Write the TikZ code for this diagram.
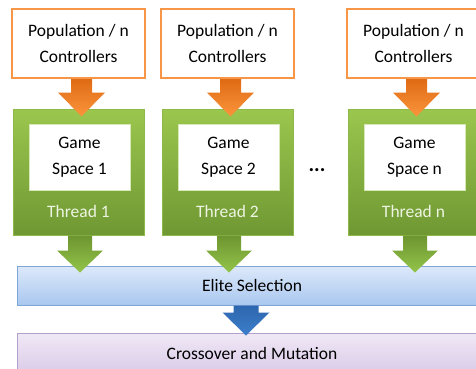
\documentclass[tikz,border=0pt]{standalone}
\usepackage{fontspec}
\setmainfont{Carlito}
\usepackage{tikz}
\usetikzlibrary{calc, positioning}

\definecolor{popOrange}{HTML}{F79646}
\definecolor{arrOrangeTop}{HTML}{DF6B14}
\definecolor{arrOrangeBot}{HTML}{FA953C}
\definecolor{thrTop}{HTML}{9BC64E}
\definecolor{thrBot}{HTML}{6F9833}
\definecolor{thrBorder}{HTML}{8DB84A}
\definecolor{thrText}{HTML}{EEF4E2}
\definecolor{arrGreenTop}{HTML}{6E9530}
\definecolor{arrGreenBot}{HTML}{92C44A}
\definecolor{eliteTop}{HTML}{DDE9FA}
\definecolor{eliteBot}{HTML}{A9C7EF}
\definecolor{eliteBorder}{HTML}{7EA5D8}
\definecolor{arrBlueTop}{HTML}{2D66AE}
\definecolor{arrBlueBot}{HTML}{3D7FCB}
\definecolor{crossTop}{HTML}{F0E8F6}
\definecolor{crossBot}{HTML}{DACBE8}
\definecolor{crossBorder}{HTML}{B3A1CB}

\begin{document}
\begin{tikzpicture}[
    x=1pt, y=-1pt,
    font=\fontsize{17.5}{26.5}\selectfont
]
    \useasboundingbox (0,0) rectangle (476,369);
    \clip (0,0) rectangle (476,369);

    % Styles for blocks
    \tikzstyle{popbox} = [draw=popOrange, line width=2.2pt, fill=white, minimum width=133pt, minimum height=69pt, align=center, inner sep=0pt]
    \tikzstyle{threadbox} = [draw=thrBorder, line width=1pt, top color=thrTop, bottom color=thrBot, minimum width=131pt, minimum height=126pt]
    \tikzstyle{gamebox} = [draw=thrTop!40, line width=0.6pt, fill=white, minimum width=101pt, minimum height=66pt, align=center, inner sep=0pt]
    \tikzstyle{threadlabel} = [text=thrText, inner sep=0pt]
    \tikzstyle{elitebar} = [draw=eliteBorder, line width=1pt, top color=eliteTop, bottom color=eliteBot, minimum width=470pt, minimum height=39pt]
    \tikzstyle{crossbar} = [draw=crossBorder, line width=1pt, top color=crossTop, bottom color=crossBot, minimum width=470pt, minimum height=40pt]

    % Components

    % One column per thread
    \foreach \i/\cx/\lab in {1/78.5/1, 2/227.5/2, 3/413.5/n} {
        \node [popbox] (pop\i) at (\cx, 43.5) {Population / n\\Controllers};
        \node [threadbox] (thr\i) at (\cx, 172) {};
        \node [gamebox] (game\i) at (\cx+1, 157) {Game\\Space \lab};
        \node [threadlabel] (lbl\i) at (\cx, 211) {Thread \lab};
    }

    % Dots between thread 2 and thread n
    \node [anchor=base, inner sep=0pt, font=\fontsize{21}{21}\bfseries] (dots) at (317, 171) {...};

    % Elite Selection (Bottom)
    \node [elitebar] (elite) at (252, 285.5) {Elite Selection};

    % Crossover and Mutation (Bottom)
    \node [crossbar] (cross) at (252, 353) {Crossover and Mutation};

    % Connections

    % 1. Controllers -> Threads, Threads -> Elite Selection
    \foreach \i in {1,2,3} {
        \shade [top color=arrOrangeTop, bottom color=arrOrangeBot]
            let \p1 = (pop\i.south), \p2 = (thr\i.north) in
            ({\x1+3pt-10.5pt}, \y1) -- ({\x1+3pt+10.5pt}, \y1)
            -- ({\x1+3pt+10.5pt}, {\y2+16pt}) -- ({\x1+3pt+23.5pt}, {\y2+16pt})
            -- ({\x1+3pt}, {\y2-8pt})
            -- ({\x1+3pt-23.5pt}, {\y2+16pt}) -- ({\x1+3pt-10.5pt}, {\y2+16pt}) -- cycle;
        \shade [top color=arrGreenTop, bottom color=arrGreenBot]
            let \p1 = (thr\i.south), \p2 = (elite.north) in
            ({\x1+1.5pt-12pt}, \y1) -- ({\x1+1.5pt+12pt}, \y1)
            -- ({\x1+1.5pt+12pt}, {\y2+15pt}) -- ({\x1+1.5pt+23pt}, {\y2+15pt})
            -- ({\x1+1.5pt}, {\y2-7pt})
            -- ({\x1+1.5pt-23pt}, {\y2+15pt}) -- ({\x1+1.5pt-12pt}, {\y2+15pt}) -- cycle;
    }

    % 2. Elite Selection -> Crossover and Mutation
    \shade [top color=arrBlueTop, bottom color=arrBlueBot]
        let \p1 = (elite.south), \p2 = (cross.north) in
        ({\x1-6pt-12.5pt}, \y1) -- ({\x1-6pt+12.5pt}, \y1)
        -- ({\x1-6pt+12.5pt}, {\y2+20pt}) -- ({\x1-6pt+23.5pt}, {\y2+20pt})
        -- ({\x1-6pt}, {\y2-3pt})
        -- ({\x1-6pt-23.5pt}, {\y2+20pt}) -- ({\x1-6pt-12.5pt}, {\y2+20pt}) -- cycle;

\end{tikzpicture}
\end{document}
